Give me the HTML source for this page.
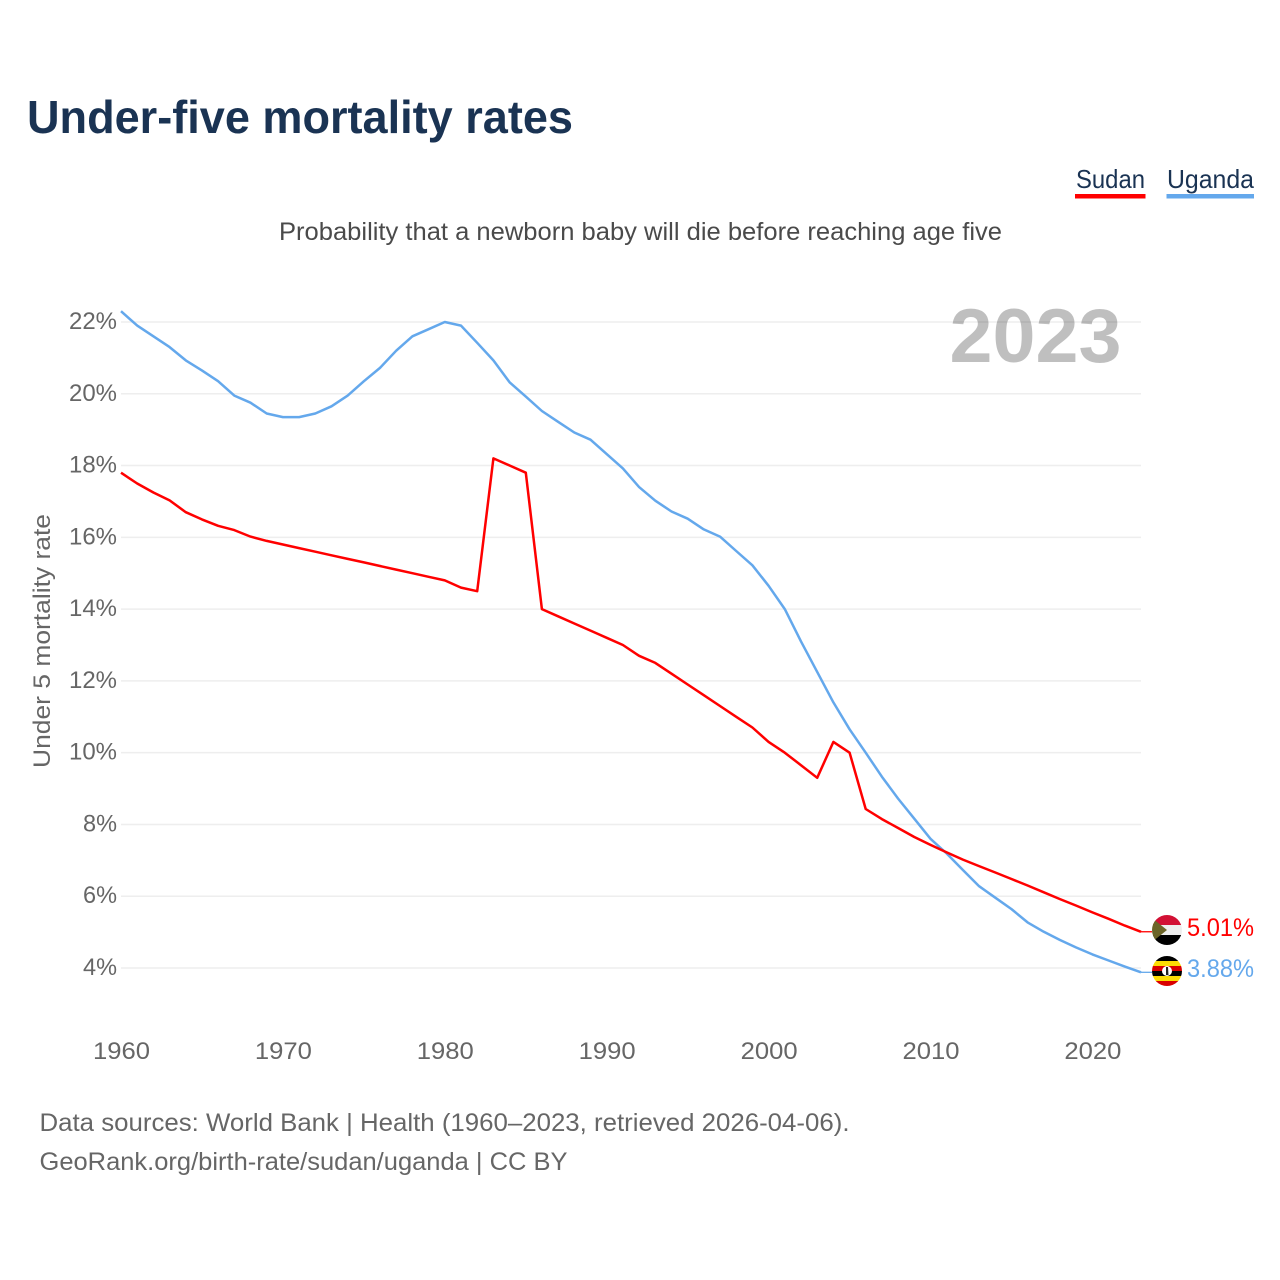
<!DOCTYPE html>
<html lang="en">
<head>
<meta charset="utf-8">
<title>Under-five mortality rates</title>
<style>
html,body{margin:0;padding:0;background:#fff;width:1280px;height:1280px;overflow:hidden}
svg{display:block;font-family:"Liberation Sans",sans-serif}
</style>
</head>
<body>
<svg id="chart" width="1280" height="1280" viewBox="0 0 1280 1280">
  <defs>
    <clipPath id="clip-sudan"><circle cx="1167" cy="930" r="15"/></clipPath>
    <clipPath id="clip-uganda"><circle cx="1167" cy="971" r="15"/></clipPath>
  </defs>
  <text x="27" y="133" font-size="46" font-weight="700" fill="#1a3353" textLength="546" lengthAdjust="spacingAndGlyphs">Under-five mortality rates</text>
  <text x="1076" y="188" font-size="26" fill="#1a3353" textLength="69" lengthAdjust="spacingAndGlyphs">Sudan</text>
  <rect x="1075" y="194" width="70.500" height="4.500" fill="#ff0000"/>
  <text x="1167" y="188" font-size="26" fill="#1a3353" textLength="87" lengthAdjust="spacingAndGlyphs">Uganda</text>
  <rect x="1166.500" y="194" width="87.500" height="4.500" fill="#64a8ec"/>
  <text x="279" y="240" font-size="25" fill="#4a4a4a" textLength="723" lengthAdjust="spacingAndGlyphs">Probability that a newborn baby will die before reaching age five</text>
  <g id="grid"></g>
  <text x="949.500" y="362" font-size="76" font-weight="700" fill="#000000" fill-opacity="0.25" textLength="172" lengthAdjust="spacingAndGlyphs">2023</text>
  <text transform="translate(50,768) rotate(-90)" font-size="24" fill="#666666" textLength="254" lengthAdjust="spacingAndGlyphs">Under 5 mortality rate</text>
  <g id="ytick-labels"></g>
  <g id="xtick-labels"></g>
  <g id="series"></g>
  <g clip-path="url(#clip-sudan)">
    <rect x="1152" y="915" width="30" height="10" fill="#d21034"/>
    <rect x="1152" y="925" width="30" height="10" fill="#eeeeee"/>
    <rect x="1152" y="935" width="30" height="10" fill="#000000"/>
    <path d="M1152 918 L1167 930 L1152 942 Z" fill="#6b6427"/>
  </g>
  <g clip-path="url(#clip-uganda)">
    <rect x="1152" y="956" width="30" height="5" fill="#000000"/>
    <rect x="1152" y="961" width="30" height="5" fill="#fcdc04"/>
    <rect x="1152" y="966" width="30" height="5" fill="#d90000"/>
    <rect x="1152" y="971" width="30" height="5" fill="#000000"/>
    <rect x="1152" y="976" width="30" height="5" fill="#fcdc04"/>
    <rect x="1152" y="981" width="30" height="5" fill="#d90000"/>
    <circle cx="1167" cy="971" r="5" fill="#ffffff"/>
    <path d="M1166 967 L1168 967 L1168.500 975 L1166 975 Z" fill="#222222"/>
  </g>
  <text x="1187" y="936" font-size="25" fill="#ff0000" textLength="67" lengthAdjust="spacingAndGlyphs">5.01%</text>
  <text x="1187" y="977" font-size="25" fill="#64a8ec" textLength="67" lengthAdjust="spacingAndGlyphs">3.88%</text>
  <text x="39.500" y="1131" font-size="25" fill="#666666" textLength="810" lengthAdjust="spacingAndGlyphs">Data sources: World Bank | Health (1960–2023, retrieved 2026-04-06).</text>
  <text x="39.500" y="1170" font-size="25" fill="#666666" textLength="528" lengthAdjust="spacingAndGlyphs">GeoRank.org/birth-rate/sudan/uganda | CC BY</text>
</svg>
<script>
const startYear = 1960;
const xTickYears = [1960, 1970, 1980, 1990, 2000, 2010, 2020];
const yTickValues = [4, 6, 8, 10, 12, 14, 16, 18, 20, 22];
const sudanValues = [17.8,17.5,17.25,17.03,16.7,16.5,16.32,16.2,16.02,15.9,15.8,15.7,15.6,15.5,15.4,15.3,15.2,15.1,15.0,14.9,14.8,14.6,14.5,18.2,18.0,17.8,14.0,13.8,13.6,13.4,13.2,13.0,12.7,12.5,12.2,11.9,11.6,11.3,11.0,10.7,10.3,10.0,9.65,9.3,10.3,10.0,8.43,8.15,7.9,7.65,7.43,7.22,7.02,6.84,6.66,6.48,6.3,6.11,5.92,5.74,5.55,5.37,5.18,5.01];
const ugandaValues = [22.3,21.9,21.6,21.3,20.93,20.65,20.35,19.95,19.75,19.45,19.35,19.35,19.45,19.65,19.95,20.35,20.72,21.2,21.6,21.8,22.0,21.9,21.42,20.93,20.32,19.92,19.52,19.22,18.92,18.72,18.32,17.92,17.4,17.02,16.72,16.52,16.22,16.02,15.62,15.22,14.65,14.0,13.1,12.25,11.4,10.65,10.0,9.33,8.72,8.16,7.6,7.19,6.73,6.28,5.96,5.64,5.27,5.01,4.78,4.57,4.38,4.21,4.04,3.88];

const svgNS = 'http://www.w3.org/2000/svg';
const xPos = function (year) { return 121 + (year - startYear) * 16.19; };
const yPos = function (value) { return 968 - (value - 4) * 35.89; };

function make(tag, attrs, parent) {
  const el = document.createElementNS(svgNS, tag);
  Object.keys(attrs).forEach(function (k) { el.setAttribute(k, attrs[k]); });
  parent.appendChild(el);
  return el;
}

const grid = document.getElementById('grid');
const yLabels = document.getElementById('ytick-labels');
const xLabels = document.getElementById('xtick-labels');
const series = document.getElementById('series');

yTickValues.forEach(function (v) {
  const line = make('line', { x1: 121, x2: 1141, y1: yPos(v), y2: yPos(v), stroke: '#eeeeee', 'stroke-width': 1.500 }, grid);
  
  
  const label = make('text', { x: 117, y: yPos(v) + 7, 'text-anchor': 'end', 'font-size': 24, fill: '#666666', textLength: v < 10 ? 34 : 48, lengthAdjust: 'spacingAndGlyphs' }, yLabels);
  label.textContent = v + '%';
  
  
});

xTickYears.forEach(function (y) {
  const label = make('text', { x: xPos(y) + 0.500, y: 1059, 'text-anchor': 'middle', 'font-size': 24, fill: '#666666', textLength: 57, lengthAdjust: 'spacingAndGlyphs' }, xLabels);
  label.textContent = String(y);
  
  
});

function linePoints(values) {
  return values.map(function (v, i) { return xPos(startYear + i).toFixed(1) + ',' + yPos(v).toFixed(1); }).join(' ');
}

function leader(values, color, name) {
  const last = values[values.length - 1];
  const lineEl = make('line', { x1: xPos(startYear + values.length - 1), x2: 1152, y1: yPos(last), y2: yPos(last), stroke: color, 'stroke-width': 1.300 }, series);
  
  
}

const ugandaLine = make('polyline', { points: linePoints(ugandaValues), fill: 'none', stroke: '#64a8ec', 'stroke-width': 2.500, 'stroke-linejoin': 'round' }, series);


const sudanLine = make('polyline', { points: linePoints(sudanValues), fill: 'none', stroke: '#ff0000', 'stroke-width': 2.500, 'stroke-linejoin': 'round' }, series);


leader(sudanValues, '#ff0000', 'leader-sudan');
leader(ugandaValues, '#64a8ec', 'leader-uganda');
</script>
</body>
</html>
